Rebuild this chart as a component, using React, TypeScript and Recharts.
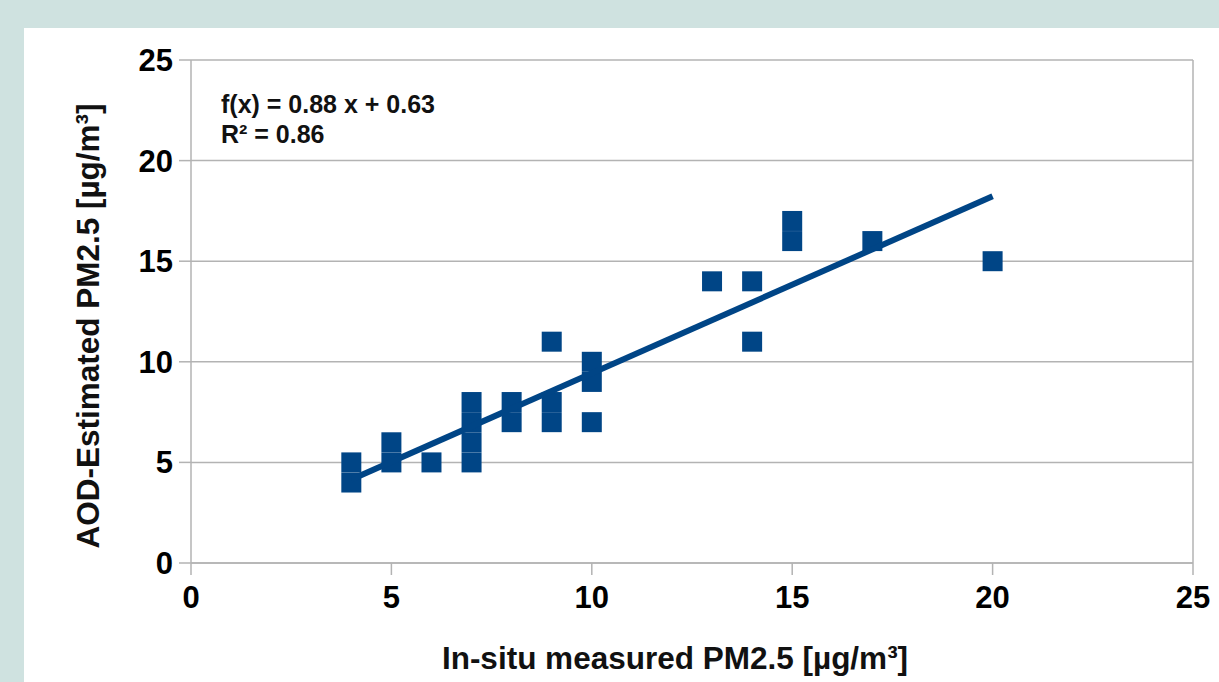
import React from 'react';
import {
  ScatterChart,
  Scatter,
  XAxis,
  YAxis,
  CartesianGrid,
  ReferenceLine,
} from 'recharts';

// In-situ measured PM2.5 (x) vs AOD-estimated PM2.5 (y)
const measured = [4, 4, 5, 5, 6, 7, 7, 7, 7, 8, 8, 9, 9, 9, 10, 10, 10, 13, 14, 14, 15, 15, 17, 20];
const estimated = [4, 5, 5, 6, 5, 5, 6, 7, 8, 7, 8, 7, 8, 11, 7, 9, 10, 14, 14, 11, 16, 17, 16, 15];

// linear trend line from the chart's own equation
const slope = 0.88;
const intercept = 0.63;
const trendRange = [4, 20];

const axisTicks = [0, 5, 10, 15, 20, 25];

const BLUE = '#004586';
const GRID = '#b3b3b3';
const FONT = '"Liberation Sans", Arial, sans-serif';

const points = measured.map((x, i) => ({ x, y: estimated[i] }));
const trend = trendRange.map((x) => ({ x, y: slope * x + intercept }));

const SquareMark = (props: any) => {
  const { cx, cy } = props;
  if (cx == null || cy == null) return null;
  return <rect x={cx - 10} y={cy - 10} width={20} height={20} fill={BLUE} />;
};

const tickStyle = { fill: '#000', fontSize: 31, fontWeight: 700, fontFamily: FONT };

export default function App() {
  return (
    <div
      style={{
        position: 'absolute',
        left: 0,
        top: 0,
        width: 1219,
        height: 682,
        background: '#cfe2e0',
        overflow: 'hidden',
        fontFamily: FONT,
      }}
    >
      <div
        style={{
          position: 'absolute',
          left: 24,
          top: 28,
          width: 1195,
          height: 654,
          background: '#fff',
        }}
      />
      <div style={{ position: 'absolute', left: 0, top: 0 }}>
        <ScatterChart
          width={1219}
          height={682}
          margin={{ top: 60, right: 26, bottom: 59, left: 111 }}
        >
          <CartesianGrid vertical={false} stroke={GRID} strokeWidth={1.5} />
          <XAxis
            type="number"
            dataKey="x"
            domain={[0, 25]}
            ticks={axisTicks}
            height={60}
            stroke={GRID}
            strokeWidth={1.5}
            tickSize={12}
            tickMargin={11}
            tick={tickStyle}
          />
          <YAxis
            type="number"
            dataKey="y"
            domain={[0, 25]}
            ticks={axisTicks}
            width={80}
            stroke={GRID}
            strokeWidth={1.5}
            tickSize={12}
            tickMargin={6}
            tick={tickStyle}
          />
          <ReferenceLine x={25} stroke={GRID} strokeWidth={1.5} />
          <Scatter data={points} shape={SquareMark} isAnimationActive={false} />
          <Scatter
            data={trend}
            line={{ stroke: BLUE, strokeWidth: 6 }}
            shape={() => null}
            isAnimationActive={false}
          />
        </ScatterChart>
      </div>
      <div
        style={{
          position: 'absolute',
          left: 221,
          top: 89,
          fontSize: 25,
          fontWeight: 700,
          lineHeight: '30px',
          color: '#111',
          whiteSpace: 'nowrap',
        }}
      >
        <div>f(x) = 0.88 x + 0.63</div>
        <div>R² = 0.86</div>
      </div>
      <div
        style={{
          position: 'absolute',
          left: 675,
          top: 658,
          transform: 'translate(-50%, -50%)',
          fontSize: 31.5,
          fontWeight: 700,
          color: '#111',
          whiteSpace: 'nowrap',
        }}
      >
        In-situ measured PM2.5 [µg/m³]
      </div>
      <div
        style={{
          position: 'absolute',
          left: 88,
          top: 326,
          transform: 'translate(-50%, -50%) rotate(-90deg)',
          fontSize: 31.5,
          fontWeight: 700,
          color: '#111',
          whiteSpace: 'nowrap',
        }}
      >
        AOD-Estimated PM2.5 [µg/m³]
      </div>
    </div>
  );
}
